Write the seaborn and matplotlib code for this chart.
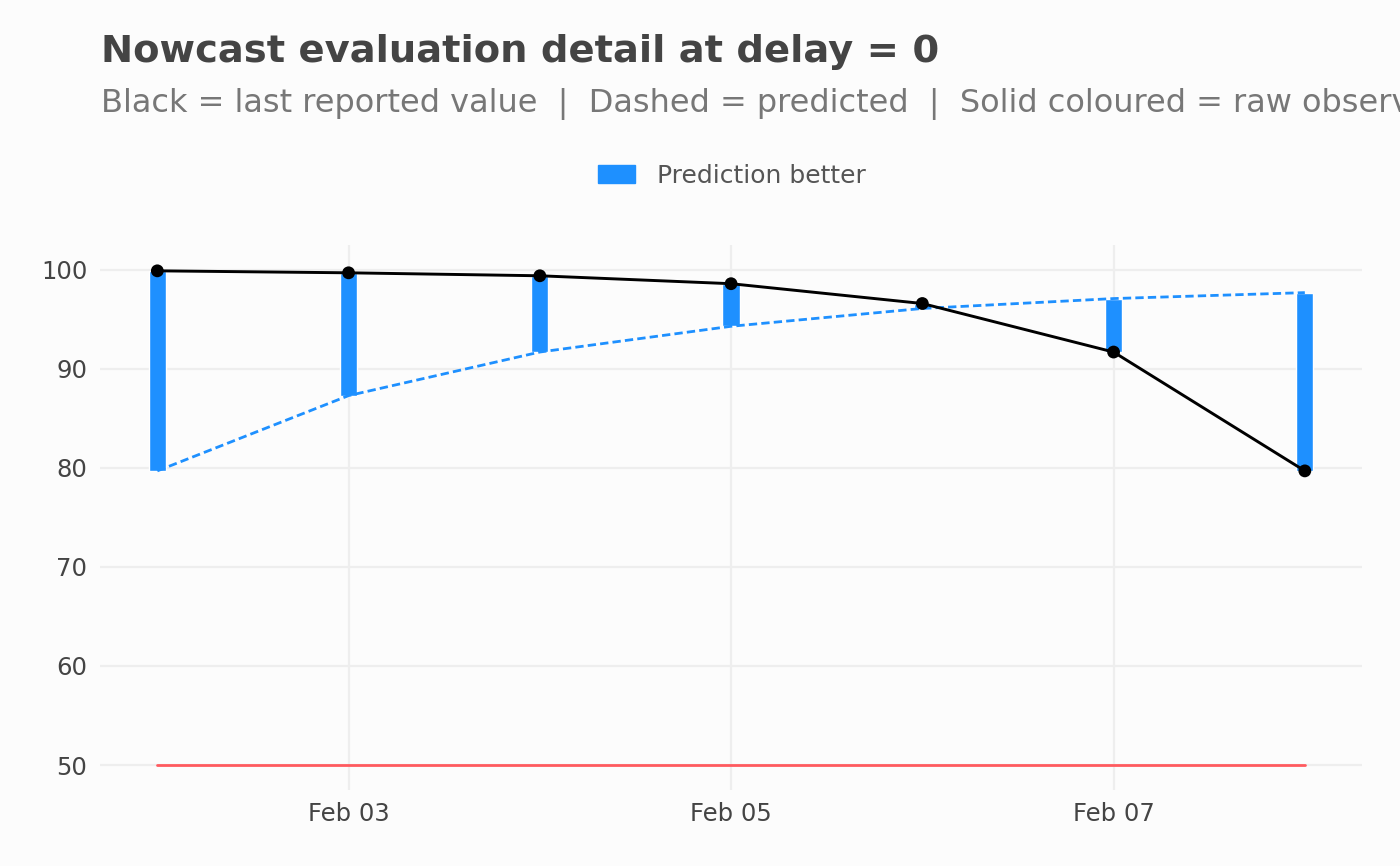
import numpy as np
import pandas as pd
import matplotlib
matplotlib.use("Agg")
import matplotlib.pyplot as plt
import matplotlib.dates as mdates
from matplotlib.patches import Patch
import seaborn as sns

# data
dates = pd.date_range("2024-02-02", "2024-02-08", freq="D")
last_reported = [99.9, 99.7, 99.4, 98.6, 96.6, 91.7, 79.7]
predicted = [79.7, 87.3, 91.7, 94.3, 96.1, 97.1, 97.7]
raw_observed = [50, 50, 50, 50, 50, 50, 50]

df = pd.DataFrame({"date": dates, "last": last_reported,
                   "pred": predicted, "raw": raw_observed})
df["lo"] = df[["last", "pred"]].min(axis=1)
df["hi"] = df[["last", "pred"]].max(axis=1)

bg = "#FCFCFC"
blue = "#1E90FF"

sns.set_theme(style="white")
plt.rcParams["font.family"] = ["DejaVu Sans"]

fig = plt.figure(figsize=(14, 8.66), dpi=100, facecolor=bg)
ax = fig.add_axes([0.0714, 0.088, 0.9016, 0.629], facecolor=bg)

# error bars between prediction and last reported value
ax.bar(df["date"], df["hi"] - df["lo"], bottom=df["lo"], width=0.09,
       color=blue, zorder=2)

sns.lineplot(data=df, x="date", y="raw", color="#FF5A5F", linewidth=2,
             ax=ax, zorder=3)
sns.lineplot(data=df, x="date", y="pred", color=blue, linewidth=2,
             linestyle=(0, (3, 1.5)), ax=ax, zorder=4)
sns.lineplot(data=df, x="date", y="last", color="black", linewidth=2.1,
             ax=ax, zorder=5)
sns.scatterplot(data=df, x="date", y="last", color="black", s=85,
                edgecolor="none", ax=ax, zorder=6)

# axes styling (ggplot minimal look)
pad = pd.Timedelta(days=0.3)
ax.set_xlim(dates[0] - pad, dates[-1] + pad)
ax.set_ylim(47.5, 102.5)
ax.set_yticks([50, 60, 70, 80, 90, 100])
ax.set_xticks(dates[1::2])
ax.xaxis.set_major_formatter(mdates.DateFormatter("%b %d"))
ax.grid(True, color="#EEEEEE", linewidth=1.6, zorder=0)
ax.set_axisbelow(True)
for s in ax.spines.values():
    s.set_visible(False)
ax.tick_params(length=0, labelsize=17.5, labelcolor="#444444", pad=9)
ax.set_xlabel("")
ax.set_ylabel("")

fig.text(0.072, 0.9395, "Nowcast evaluation detail at delay = 0",
         fontsize=27.7, fontweight="bold", color="#444444", va="center")
fig.text(0.072, 0.8795,
         "Black = last reported value  |  Dashed = predicted  |  Solid coloured = raw observed",
         fontsize=23, color="#777777", va="center")

fig.legend(handles=[Patch(color=blue, label="Prediction better")],
           loc="center", bbox_to_anchor=(0.523, 0.797), frameon=False,
           fontsize=18, labelcolor="#555555", handlelength=1.48,
           handleheight=0.68, handletextpad=0.88)

fig.savefig("out.png", dpi=100, facecolor=bg)
